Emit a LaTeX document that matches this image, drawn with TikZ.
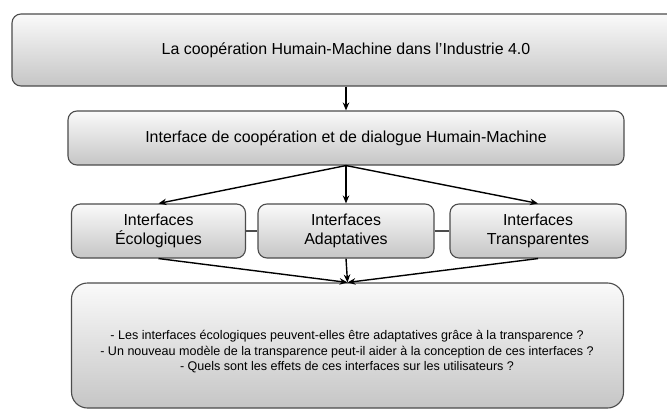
\documentclass[tikz,border=0pt]{standalone}
\usepackage{fontspec}
\setmainfont{Liberation Sans}
\usetikzlibrary{arrows.meta}
\begin{document}
\begin{tikzpicture}[x=1bp,y=1bp,
  box/.style={draw=black!70,line width=1.1bp,rounded corners=9bp,top color=gray!4,bottom color=gray!45,align=center,font=\fontsize{16}{18.5}\selectfont},
  link/.style={draw=black,line width=1.4bp,-{Stealth[length=8bp,width=6.5bp]}}]
\useasboundingbox (0,0) rectangle (667,411);
\clip (0,0) rectangle (667,411);
\fill[white] (0,0) rectangle (667,411);
\node[box,minimum width=668bp,minimum height=72bp] (coop) at (346,361) {};
\node[font=\fontsize{16}{18.5}\selectfont] (cooptxt) at (346,361) {La coopération Humain-Machine dans l’Industrie 4.0};
\node[box,minimum width=556bp,minimum height=54bp] (dial) at (346,273) {Interface de coopération et de dialogue Humain-Machine};
\node[box,minimum width=174bp,minimum height=54bp] (eco) at (158.5,180) {Interfaces\\Écologiques};
\node[box,minimum width=176bp,minimum height=54bp] (adap) at (346,180) {Interfaces\\Adaptatives};
\node[box,minimum width=176bp,minimum height=54bp] (trans) at (538,180) {Interfaces\\Transparentes};
\node[box,rounded corners=16bp,minimum width=552bp,minimum height=125bp] (quest) at (347.5,65.5) {};
\node[align=center,font=\fontsize{12.6}{15.5}\selectfont] (questtxt) at (347,59) {- Les interfaces écologiques peuvent-elles être adaptatives grâce à la transparence ?\\- Un nouveau modèle de la transparence peut-il aider à la conception de ces interfaces ?\\- Quels sont les effets de ces interfaces sur les utilisateurs ?};
\draw[link] (coop.south -| dial.north) -- (dial.north);
\foreach \n in {eco,adap,trans}\draw[link] (dial.south) -- (\n.north);
\foreach \n in {eco,adap,trans}\draw[link] (\n.south) -- (quest.north);
\draw[black!70,line width=2bp] (eco.east) -- (adap.west) (adap.east) -- (trans.west);
\end{tikzpicture}
\end{document}
